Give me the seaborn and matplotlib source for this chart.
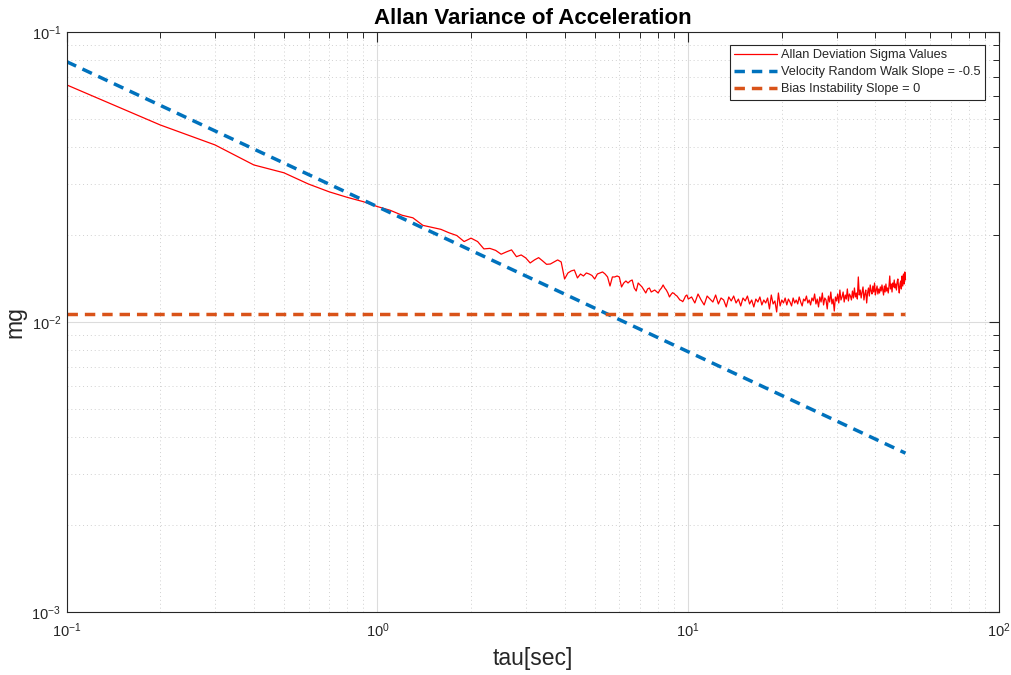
import numpy as np
import pandas as pd
import matplotlib
matplotlib.use("Agg")
import matplotlib.pyplot as plt
import seaborn as sns
from matplotlib.ticker import LogLocator, NullFormatter

# ---------------- data ----------------
# tau grid (seconds): 0.1 s steps up to 10 s, then 0.25 s steps up to 50 s
tau_a = np.round(np.arange(1, 101) * 0.1, 2)
tau_b = np.round(10 + np.arange(1, 161) * 0.25, 2)

sigma_a = [
    0.0657, 0.0478, 0.0408, 0.0348, 0.0327, 0.0299, 0.0281, 0.0269, 0.0260, 0.0250,
    0.02427, 0.02334, 0.02287, 0.02154, 0.02120, 0.02087, 0.02030, 0.01987, 0.01894, 0.01946,
    0.01894, 0.01787, 0.01794, 0.01766, 0.01713, 0.01745, 0.01773, 0.01680, 0.01703, 0.01663,
    0.01598, 0.01637, 0.01667, 0.01624, 0.01581, 0.01585, 0.01611, 0.01637, 0.01611, 0.01407,
    0.01476, 0.01500, 0.01511, 0.01419, 0.01464, 0.01441, 0.01476, 0.01464, 0.01447, 0.01407,
    0.01464, 0.01476, 0.01488, 0.01464, 0.01430, 0.01331, 0.01430, 0.01430, 0.01441, 0.01430,
    0.01321, 0.01363, 0.01385, 0.01363, 0.01385, 0.01396, 0.01310, 0.01279, 0.01363, 0.01342,
    0.01321, 0.01289, 0.01259, 0.01300, 0.01310, 0.01269, 0.01279, 0.01289, 0.01274, 0.01259,
    0.01289, 0.01310, 0.01342, 0.01310, 0.01289, 0.01259, 0.01220, 0.01244, 0.01262, 0.01254,
    0.01239, 0.01229, 0.01210, 0.01191, 0.01186, 0.01175, 0.01200, 0.01229, 0.01239, 0.01200,
]
sigma_b = [
    0.01220, 0.01163, 0.01249, 0.01191, 0.01145, 0.01229, 0.01200, 0.01172,
    0.01239, 0.01154, 0.01210, 0.01191, 0.01127, 0.01220, 0.01182, 0.01229,
    0.01163, 0.01200, 0.01136, 0.01210, 0.01182, 0.01229, 0.01154, 0.01191,
    0.01127, 0.01200, 0.01172, 0.01220, 0.01145, 0.01191, 0.01163, 0.01210,
    0.01109, 0.01239, 0.01154, 0.01182, 0.01083, 0.01259, 0.01136, 0.01191,
    0.01163, 0.01210, 0.01145, 0.01200, 0.01172, 0.01136, 0.01210, 0.01163,
    0.01191, 0.01154, 0.01220, 0.01172, 0.01136, 0.01200, 0.01182, 0.01229,
    0.01163, 0.01191, 0.01145, 0.01210, 0.01182, 0.01249, 0.01154, 0.01200,
    0.01127, 0.01220, 0.01172, 0.01259, 0.01145, 0.01210, 0.01191, 0.01109,
    0.01229, 0.01172, 0.01269, 0.01154, 0.01200, 0.01091, 0.01220, 0.01182,
    0.01249, 0.01163, 0.01289, 0.01191, 0.01220, 0.01269, 0.01172, 0.01239,
    0.01200, 0.01300, 0.01182, 0.01249, 0.01229, 0.01191, 0.01279, 0.01210,
    0.01310, 0.01220, 0.01259, 0.01200, 0.01430, 0.01239, 0.01289, 0.01210,
    0.01269, 0.01321, 0.01191, 0.01249, 0.01289, 0.01163, 0.01259, 0.01310,
    0.01229, 0.01342, 0.01279, 0.01249, 0.01331, 0.01269, 0.01363, 0.01239,
    0.01289, 0.01331, 0.01249, 0.01300, 0.01259, 0.01321, 0.01279, 0.01342,
    0.01289, 0.01239, 0.01331, 0.01269, 0.01352, 0.01279, 0.01310, 0.01259,
    0.01331, 0.01441, 0.01300, 0.01352, 0.01269, 0.01363, 0.01321, 0.01396,
    0.01310, 0.01352, 0.01289, 0.01374, 0.01407, 0.01321, 0.01259, 0.01352,
    0.01385, 0.01300, 0.01441, 0.01331, 0.01464, 0.01352, 0.01488, 0.01396,
]

tau_fit = [0.1, 50.0]
vrw_fit = [0.0790, 0.00353]     # slope -0.5 line
bias_fit = [0.01067, 0.01067]   # slope 0 line

labels = ["Allan Deviation Sigma Values",
          "Velocity Random Walk Slope = -0.5",
          "Bias Instability Slope = 0"]

# ---------------- frames ----------------
df_av = pd.DataFrame({"tau": np.concatenate([tau_a, tau_b]),
                      "sigma": np.array(sigma_a + sigma_b)})
df_vrw = pd.DataFrame({"tau": tau_fit, "sigma": vrw_fit})
df_bias = pd.DataFrame({"tau": tau_fit, "sigma": bias_fit})

# ---------------- style ----------------
sns.set_theme(style="white")
plt.rcParams["font.family"] = ["Liberation Sans", "DejaVu Sans"]
plt.rcParams["mathtext.fontset"] = "custom"
plt.rcParams["mathtext.rm"] = "Liberation Sans"
plt.rcParams["mathtext.it"] = "Liberation Sans"
plt.rcParams["mathtext.default"] = "regular"

fig = plt.figure(figsize=(10.12, 6.75), dpi=100)
ax = fig.add_axes([0.0659, 0.0933, 0.9213, 0.8593])
ax.set_xscale("log")
ax.set_yscale("log")

sns.lineplot(data=df_av, x="tau", y="sigma", ax=ax, color="#ff0000", lw=0.9,
             estimator=None, sort=False, label=labels[0])
sns.lineplot(data=df_vrw, x="tau", y="sigma", ax=ax, color="#0072BD", lw=2.5,
             estimator=None, sort=False, label=labels[1], dashes=False)
sns.lineplot(data=df_bias, x="tau", y="sigma", ax=ax, color="#D95319", lw=2.5,
             estimator=None, sort=False, label=labels[2], dashes=False)
ax.lines[1].set_dashes((3, 2))
ax.lines[2].set_dashes((3, 2))

ax.set_xlim(0.1, 100)
ax.set_ylim(1e-3, 1e-1)

ax.xaxis.set_major_locator(LogLocator(base=10, numticks=10))
ax.yaxis.set_major_locator(LogLocator(base=10, numticks=10))
ax.xaxis.set_minor_locator(LogLocator(base=10, subs=np.arange(2, 10), numticks=20))
ax.yaxis.set_minor_locator(LogLocator(base=10, subs=np.arange(2, 10), numticks=20))
ax.xaxis.set_minor_formatter(NullFormatter())
ax.yaxis.set_minor_formatter(NullFormatter())

ax.grid(True, which="major", color="#dcdcdc", lw=0.8, ls="-")
ax.grid(True, which="minor", color="#d0d0d0", lw=0.7, ls=(0, (1, 3)))
ax.set_axisbelow(True)

ax.tick_params(which="both", direction="in", top=True, right=True,
               color="#262626", labelcolor="#262626", labelsize=10.5)
ax.tick_params(which="major", length=7, width=0.8)
ax.tick_params(which="minor", length=4, width=0.7)
ax.tick_params(axis="x", which="major", pad=7)
ax.tick_params(axis="y", which="major", pad=4)
for s in ax.spines.values():
    s.set_color("#262626")
    s.set_linewidth(0.8)

ax.set_title("Allan Variance of Acceleration", fontsize=16, fontweight="bold",
             color="black", pad=6)
ax.set_xlabel("tau[sec]", fontsize=16.5, color="#262626", labelpad=5)
ax.set_ylabel("mg", fontsize=16.5, color="#262626", labelpad=4)

leg = ax.legend(loc="upper right", bbox_to_anchor=(0.985, 0.978), fontsize=9.2,
                frameon=True, fancybox=False, framealpha=1, edgecolor="#262626",
                handlelength=3.35, handletextpad=0.3, borderpad=0.35,
                labelspacing=0.4, borderaxespad=0)
leg.get_frame().set_linewidth(0.8)

fig.savefig("out.png", dpi=100)
